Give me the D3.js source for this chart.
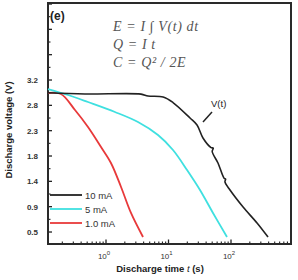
<!DOCTYPE html>
<html><head><meta charset="utf-8">
<script src="https://cdn.jsdelivr.net/npm/d3@7"></script>
<style>html,body{margin:0;padding:0;background:#fff;}svg{display:block;}</style>
</head><body>
<script>
// ---- data ----
const seriesNames = ["10 mA", "5 mA", "1.0 mA"];
const seriesColors = ["#222222", "#3fe0e0", "#e8393a"];
// time (s), voltage (V)
const t10 = [0.118,0.46,3.63,4.7,8.2,11.8,22.1,28.6,35.6,48,52,50,61.9,78,82,80,96.4,156,261,391];
const v10 = [2.974,2.951,2.95,2.916,2.898,2.80,2.525,2.40,2.17,2.0,1.99,1.93,1.726,1.45,1.44,1.39,1.246,0.944,0.66,0.41];
const t5 = [0.118,0.247,0.515,1.39,3.25,6.79,11.8,19.8,31.9,51.5,86.3];
const v5 = [3.04,2.934,2.809,2.632,2.454,2.223,1.957,1.601,1.246,0.838,0.411];
const t1 = [0.118,0.19,0.319,0.515,0.832,1.20,1.74,2.51,3.91];
const v1 = [2.969,2.951,2.667,2.365,2.01,1.726,1.30,0.838,0.411];
const yTickValues = [0.5,0.95,1.4,1.85,2.3,2.75,3.2];
const yTickLabels = ["0.5","0.9","1.4","1.8","2.3","2.8","3.2"];
const xTickValues = [1,10,100];
const xTickExps = ["0","1","2"];
const formulas = ["E = I \u222B V(t) dt","Q = I t","C = Q\u00B2 / 2E"];

const W=298,H=280;
const m={l:48,t:3,r:291,b:244};
const svg=d3.select("body").append("svg").attr("width",W).attr("height",H);
const x=d3.scaleLog().domain([0.118,912]).range([m.l,m.r]);
const y=d3.scaleLinear().domain([0.287,4.568]).range([m.b,m.t]);

// ticks y (inward)
const yMajor=d3.range(0.5,4.6,0.45);
const yMinor=yMajor.map(v=>v+0.225).filter(v=>v<4.56);
svg.append("g").selectAll("line").data(yMajor).join("line")
 .attr("x1",m.l).attr("x2",m.l+4).attr("y1",d=>y(d)).attr("y2",d=>y(d))
 .attr("stroke","#222").attr("stroke-width",1.3);
svg.append("g").selectAll("line").data(yMinor).join("line")
 .attr("x1",m.l).attr("x2",m.l+2.5).attr("y1",d=>y(d)).attr("y2",d=>y(d))
 .attr("stroke","#222").attr("stroke-width",1.1);
svg.append("g").selectAll("text").data(yTickValues).join("text")
 .attr("x",m.l-10).attr("y",d=>y(d)+3).attr("text-anchor","end")
 .attr("font-family","Liberation Sans, Arial, sans-serif").attr("font-size",8).attr("font-weight","bold")
 .attr("fill","#333").text((d,i)=>yTickLabels[i]);

// ticks x
const xMinor=[];
[0.1,1,10,100].forEach(b=>{for(let k=2;k<=9;k++){const v=b*k;if(v>0.118&&v<912)xMinor.push(v);}});
svg.append("g").selectAll("line").data(xMinor).join("line")
 .attr("x1",d=>x(d)).attr("x2",d=>x(d)).attr("y1",m.b).attr("y2",m.b-2.5)
 .attr("stroke","#222").attr("stroke-width",1.1);
svg.append("g").selectAll("line").data(xTickValues).join("line")
 .attr("x1",d=>x(d)).attr("x2",d=>x(d)).attr("y1",m.b).attr("y2",m.b-4.5)
 .attr("stroke","#222").attr("stroke-width",1.3);
const xl=svg.append("g").selectAll("text").data(xTickValues).join("text")
 .attr("x",d=>x(d)-2).attr("y",m.b+15).attr("text-anchor","middle")
 .attr("font-family","Liberation Sans, Arial, sans-serif").attr("font-size",8).attr("fill","#333");
xl.append("tspan").text("10");
xl.append("tspan").attr("dy",-4).attr("font-size",6).text((d,i)=>xTickExps[i]);

// frame
svg.append("rect").attr("x",m.l).attr("y",m.t).attr("width",m.r-m.l).attr("height",m.b-m.t)
 .attr("fill","none").attr("stroke","#2a2a2a").attr("stroke-width",2);

// curves
const line=d3.line().x(d=>x(d[0])).y(d=>y(d[1])).curve(d3.curveCatmullRom.alpha(0.5));
const all=[[t10,v10],[t5,v5],[t1,v1]];
[2,1,0].forEach(i=>{
 const pts=all[i][0].map((t,j)=>[t,all[i][1][j]]);
 svg.append("path").datum(pts).attr("d",line).attr("fill","none")
  .attr("stroke",seriesColors[i]).attr("stroke-width",i===0?1.6:1.8).attr("stroke-linejoin","round");
});

// legend
const legY=[195,209,223];
seriesNames.forEach((n,i)=>{
 svg.append("line").attr("x1",50).attr("x2",82).attr("y1",legY[i]).attr("y2",legY[i])
  .attr("stroke",seriesColors[i]).attr("stroke-width",1.8);
 svg.append("text").attr("x",85).attr("y",legY[i]+3.5)
  .attr("font-family","Liberation Sans, Arial, sans-serif").attr("font-size",9.5).attr("fill","#333").text(n);
});

// annotation V(t)
svg.append("text").attr("x",211).attr("y",107)
 .attr("font-family","Liberation Sans, Arial, sans-serif").attr("font-size",9.5).attr("fill","#222").text("V(t)");
svg.append("line").attr("x1",212).attr("y1",112).attr("x2",203).attr("y2",122)
 .attr("stroke","#222").attr("stroke-width",1.5);

// panel label
svg.append("text").attr("x",50).attr("y",20)
 .attr("font-family","Liberation Sans, Arial, sans-serif").attr("font-size",12).attr("font-weight","bold").attr("fill","#222").text("(e)");

// formulas
formulas.forEach((f,i)=>{
 svg.append("text").attr("x",113).attr("y",31+i*18)
  .attr("font-family","Liberation Serif, Times New Roman, serif").attr("font-style","italic")
  .attr("font-size",14).attr("letter-spacing",0.6).attr("fill","#555").text(f);
});

// axis titles
const xt=svg.append("text").attr("x",160).attr("y",272).attr("text-anchor","middle")
 .attr("font-family","Liberation Sans, Arial, sans-serif").attr("font-size",9.5).attr("font-weight","bold").attr("fill","#222");
xt.append("tspan").text("Discharge time ");
xt.append("tspan").attr("font-style","italic").attr("font-weight","normal").text("t");
xt.append("tspan").text(" (s)");
svg.append("text").attr("transform","translate(12,130) rotate(-90)").attr("text-anchor","middle")
 .attr("font-family","Liberation Sans, Arial, sans-serif").attr("font-size",9.5).attr("font-weight","bold").attr("fill","#222")
 .text("Discharge voltage (V)");
</script>
</body></html>
